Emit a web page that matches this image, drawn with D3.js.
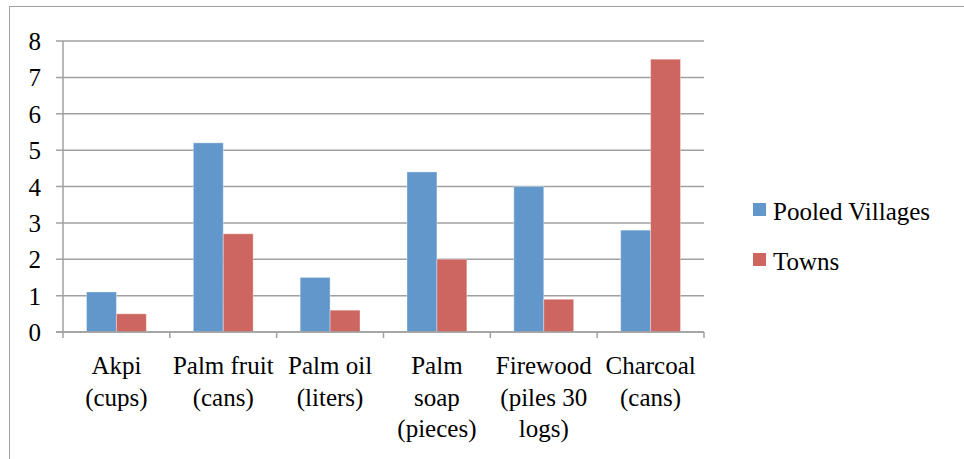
<!DOCTYPE html>
<html><head><meta charset="utf-8">
<script src="https://cdn.jsdelivr.net/npm/d3@7"></script>
<style>html,body{margin:0;padding:0;background:#fff;} svg{display:block;} svg text{font-family:"Liberation Serif","Times New Roman",Times,"Nimbus Roman","Nimbus Roman No9 L","Tinos","Noto Serif","DejaVu Serif",serif;}</style>
</head><body>
<script>
const categories = ["Akpi (cups)","Palm fruit (cans)","Palm oil (liters)","Palm soap (pieces)","Firewood (piles 30 logs)","Charcoal (cans)"];
const categoryLines = [["Akpi","(cups)"],["Palm fruit","(cans)"],["Palm oil","(liters)"],["Palm","soap","(pieces)"],["Firewood","(piles 30","logs)"],["Charcoal","(cans)"]];
const seriesNames = ["Pooled Villages","Towns"];
const pooledVillages = [1.1, 5.2, 1.5, 4.4, 4.0, 2.8];
const towns = [0.5, 2.7, 0.6, 2.0, 0.9, 7.5];
const yTicks = [0,1,2,3,4,5,6,7,8];
const colors = ["#6197CB","#CD6660"];

(function(){
const W = 964, H = 459;
const svg = d3.select("body").append("svg").attr("width", W).attr("height", H);

// outer border
svg.append("rect").attr("x", 9.5).attr("y", 6.5).attr("width", 980).attr("height", 480)
  .attr("fill","none").attr("stroke","#a0a0a0").attr("stroke-width",1);

const pLeft = 63, pRight = 704, pTop = 41, pBottom = 332;
const x = d3.scaleBand().domain(categories).range([pLeft, pRight]).paddingInner(0).paddingOuter(0);
const y = d3.scaleLinear().domain([0, 8]).range([pBottom, pTop]);
const groupW = x.bandwidth() * 0.56;
const xs = d3.scaleBand().domain(seriesNames).range([0, groupW]).padding(0);

// gridlines
svg.append("g").selectAll("line").data(yTicks).join("line")
  .attr("x1", pLeft - 7).attr("x2", pRight)
  .attr("y1", d => y(d)).attr("y2", d => y(d))
  .attr("stroke", "#a0a0a0").attr("stroke-width", 1.5);

// y axis line
svg.append("line").attr("x1", pLeft).attr("x2", pLeft).attr("y1", pTop).attr("y2", pBottom)
  .attr("stroke", "#a0a0a0").attr("stroke-width", 1.5);

// y tick labels
svg.append("g").selectAll("text").data(yTicks).join("text")
  .attr("x", 41).attr("y", d => y(d) + 9)
  .attr("text-anchor", "end").attr("font-size", 25)
  .attr("fill", "#000").text(d => d);

// bars
const series = [pooledVillages, towns];
const g = svg.append("g");
categories.forEach((c, i) => {
  series.forEach((vals, s) => {
    g.append("rect")
      .attr("x", x(c) + (x.bandwidth() - groupW) / 2 + xs(seriesNames[s]))
      .attr("y", y(vals[i]))
      .attr("width", xs.bandwidth())
      .attr("height", y(0) - y(vals[i]))
      .attr("fill", colors[s])
      .attr("stroke", "rgba(255,255,255,0.35)").attr("stroke-width", 1);
  });
});

// x axis baseline and ticks
svg.append("line").attr("x1", pLeft - 7).attr("x2", pRight).attr("y1", pBottom).attr("y2", pBottom)
  .attr("stroke", "#a0a0a0").attr("stroke-width", 1.5);
const tickPos = categories.map(c => x(c)).concat([pRight]);
svg.append("g").selectAll("line").data(tickPos).join("line")
  .attr("x1", d => d).attr("x2", d => d).attr("y1", pBottom).attr("y2", pBottom + 6)
  .attr("stroke", "#a0a0a0").attr("stroke-width", 1.5);

// category labels
categories.forEach((c, i) => {
  const t = svg.append("text").attr("text-anchor", "middle")
    .attr("font-size", 25).attr("fill", "#000");
  categoryLines[i].forEach((ln, k) => {
    t.append("tspan").attr("x", x(c) + x.bandwidth() / 2).attr("y", 374 + k * 31.5).text(ln);
  });
});

// legend
const lg = svg.append("g");
seriesNames.forEach((n, s) => {
  lg.append("rect").attr("x", 753).attr("y", 203 + s * 50).attr("width", 13).attr("height", 13)
    .attr("fill", colors[s]);
  lg.append("text").attr("x", 773).attr("y", 219.5 + s * 50)
    .attr("font-size", 25).attr("fill", "#000").text(n);
});
})();
</script>
</body></html>
